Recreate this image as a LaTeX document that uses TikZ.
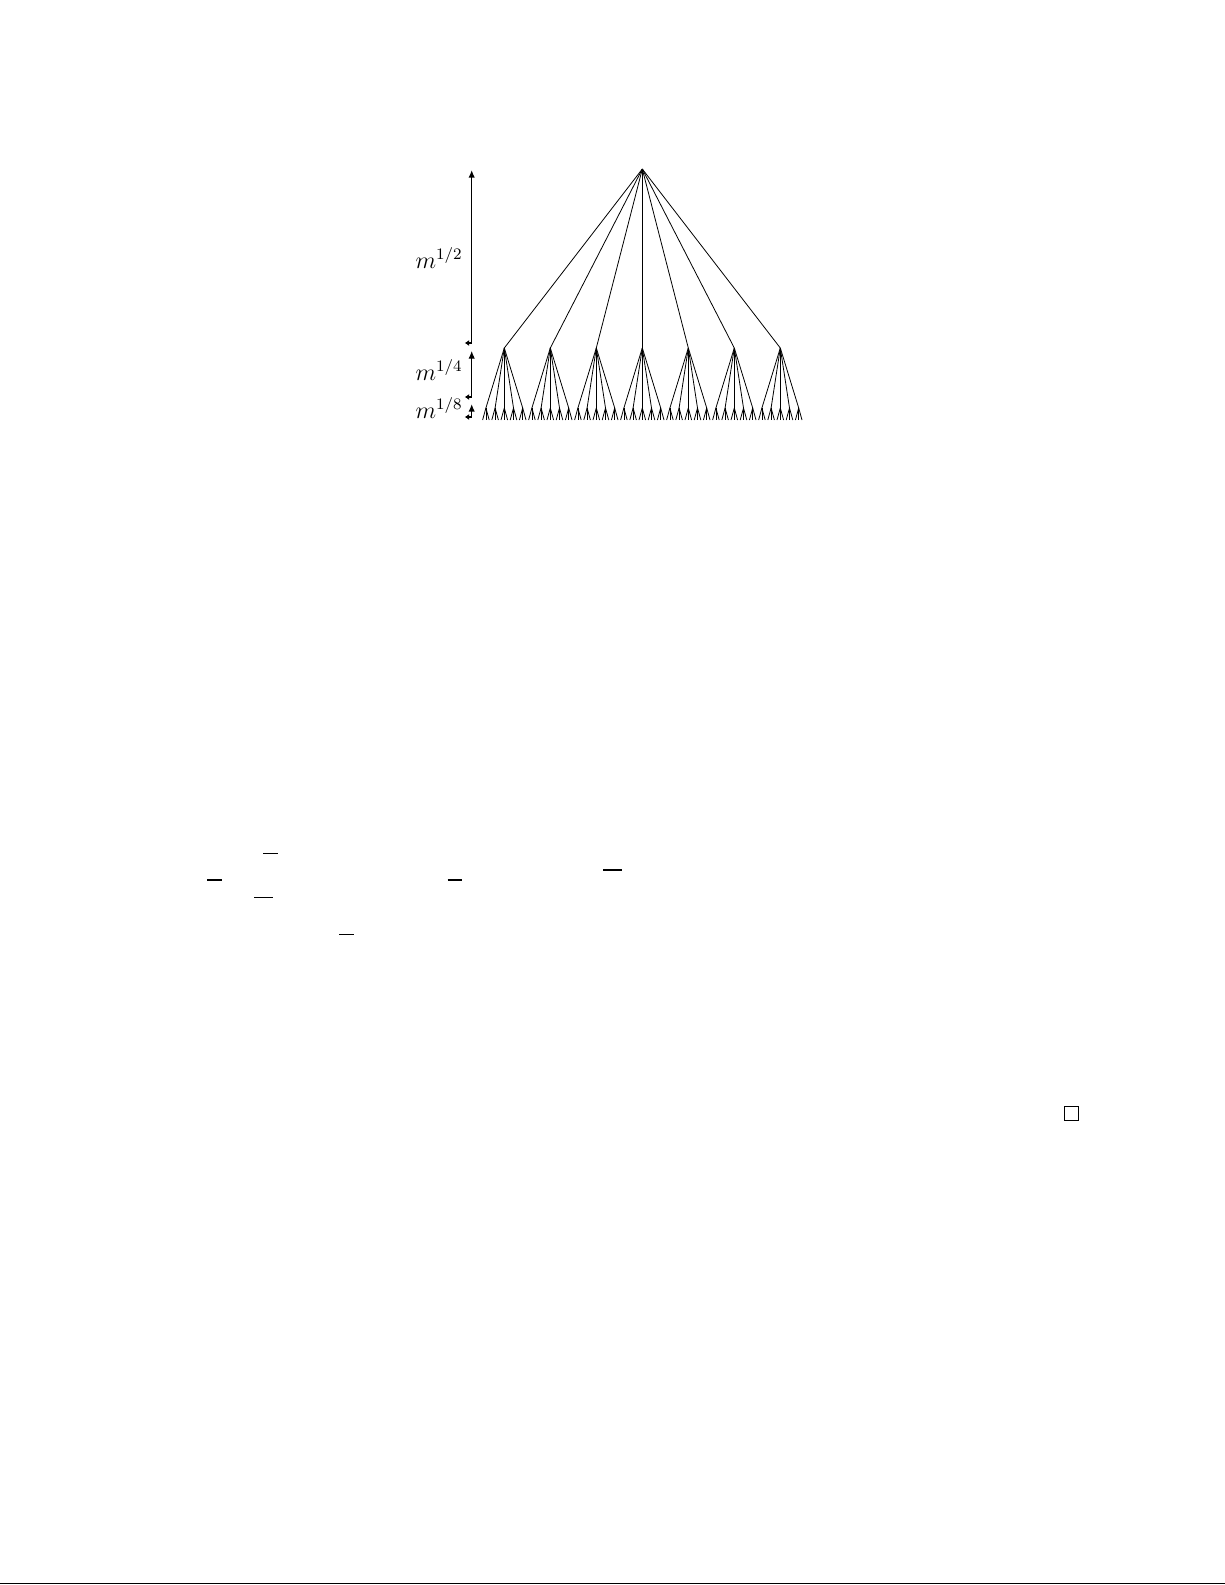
\documentclass[tikz,border=0pt]{standalone}
\usetikzlibrary{arrows.meta}
\begin{document}
\begin{tikzpicture}[x=0.5pt,y=-0.5pt,
  edge/.style={line width=0.4pt},
  dimline/.style={line width=0.7pt,-{Latex[length=3.8pt,width=3.2pt]}},
  tick/.style={line width=0.7pt,-{Latex[length=2.2pt,width=3pt]}},
  lab/.style={anchor=base east,inner sep=0pt,font=\large},
  bar/.style={line width=0.75pt},
  frame/.style={line width=0.5pt}]
\useasboundingbox (0,0) rectangle (1225,1585);
% tree
\coordinate (r) at (642.3,169);
\foreach \i in {0,...,6} {
  \coordinate (a\i) at ({504.3+46*\i},348);
  \draw[edge] (r) -- (a\i);
  \foreach \j in {0,...,4} {
    \coordinate (b\i\j) at ({504.3+46*\i+9.2*(\j-2)},408);
    \draw[edge] (a\i) -- (b\i\j);
    \foreach \k in {0,1,2} {
      \coordinate (c\i\j\k) at ({504.3+46*\i+9.2*(\j-2)+3.3*(\k-1)},420);
      \draw[edge] (b\i\j) -- (c\i\j\k);
    }
  }
}
% dimension arrows
\coordinate (h1t) at (471.7,170);
\coordinate (h1b) at (471.7,343);
\coordinate (h1k) at (464.7,343);
\draw[dimline] (h1b) -- (h1t);
\draw[tick] (h1b) -- (h1k);
\coordinate (h2t) at (471.7,351);
\coordinate (h2b) at (471.7,397);
\coordinate (h2k) at (464.7,397);
\draw[dimline,line width=0.5pt] (h2b) -- (h2t);
\draw[tick] (h2b) -- (h2k);
\coordinate (h3t) at (471.7,404);
\coordinate (h3b) at (471.7,417);
\coordinate (h3k) at (464.7,417);
\draw[dimline] (h3b) -- (h3t);
\draw[tick] (h3b) -- (h3k);
% labels
\node[lab] (l1) at (463,268) {$m^{1/2}$};
\node[lab] (l2) at (463,380) {$m^{1/4}$};
\node[lab] (l3) at (463,418) {$m^{1/8}$};
% stray marks of the page
\draw[bar] (263.3,853.3) -- (277.7,853.3);
\draw[bar] (207.3,880) -- (221.7,880);
\draw[bar] (254,897.3) -- (272.7,897.3);
\draw[bar] (447.7,880) -- (461.7,880);
\draw[bar] (603.3,870) -- (621.7,870);
\draw[bar] (339.3,934.3) -- (353.7,934.3);
\draw[frame] (1064.3,1106) rectangle (1078.3,1120);
\draw[frame] (0,1583) -- (1225,1583);
\end{tikzpicture}
\end{document}
